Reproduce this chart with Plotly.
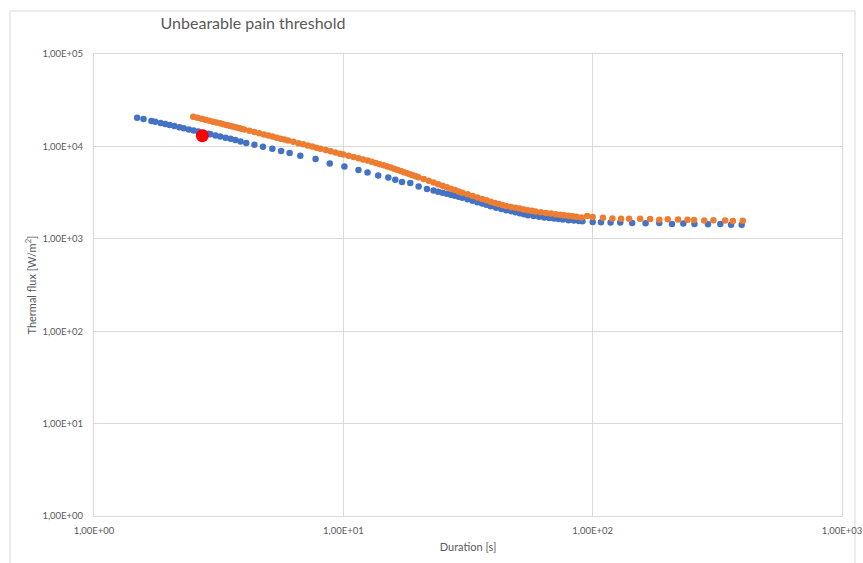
import plotly.graph_objects as go

# Series 1 (blue): exposure duration [s] and thermal flux [W/m2]
blue_duration = [
    1.49, 1.58, 1.70, 1.76, 1.85, 1.93, 2.01, 2.10, 2.20, 2.29, 2.40, 2.51,
    2.62, 2.75, 2.88, 2.93, 3.07, 3.21, 3.37, 3.53, 3.69, 3.87, 4.08, 4.40,
    4.76, 5.19, 5.63, 6.09, 6.72, 7.74, 8.82, 10.1, 11.5, 12.5, 13.8, 15.15,
    16.16, 17.19, 18.55, 20.04, 21.65, 23, 24, 25, 26, 27, 28, 29, 30, 31.5,
    33, 34.5, 36, 37.5, 39, 41, 43, 45, 47, 49, 51, 53, 55, 58, 61, 64, 67,
    70, 73, 76, 80, 84, 88, 91, 100, 108, 118, 129, 144, 163, 185, 208, 231,
    256, 290, 325, 359, 396,
]
blue_flux = [
    20450, 19750, 18880, 18460, 17920, 17430, 17000, 16590, 16090, 15740,
    15280, 14860, 14460, 14070, 13690, 13520, 13150, 12800, 12420, 12090,
    11760, 11330, 10880, 10430, 9930, 9440, 8920, 8480, 7930, 7305, 6546,
    6075, 5555, 5232, 4855, 4618, 4361, 4119, 4018, 3690, 3459, 3324, 3231,
    3145, 3064, 2988, 2916, 2849, 2786, 2683, 2584, 2493, 2408, 2330, 2257,
    2167, 2101, 2042, 1988, 1936, 1889, 1844, 1802, 1760, 1731, 1705, 1680,
    1656, 1634, 1613, 1592, 1574, 1557, 1545, 1520, 1510, 1500, 1500, 1480,
    1470, 1480, 1450, 1460, 1450, 1440, 1450, 1420, 1420,
]

# Series 2 (orange)
orange_duration = [
    2.5, 2.6, 2.7, 2.8, 2.9, 3.0, 3.1, 3.2, 3.3, 3.4, 3.5, 3.6, 3.7, 3.8,
    3.9, 4.0, 4.2, 4.4, 4.6, 4.8, 5.0, 5.2, 5.4, 5.6, 5.8, 6.0, 6.3, 6.6,
    6.9, 7.2, 7.5, 7.8, 8.1, 8.5, 8.9, 9.3, 9.7, 10, 10.5, 11, 11.5, 12,
    12.5, 13, 13.5, 14, 14.5, 15, 15.5, 16, 16.5, 17, 17.5, 18, 18.5, 19,
    19.5, 20, 21, 22, 23, 24, 25, 26, 27, 28, 29, 30, 31.5, 33, 34.5, 36,
    37.5, 39, 40.5, 42, 43.5, 45, 47, 49, 51, 53, 55, 57, 59, 62, 65, 68,
    71, 74, 77, 80, 83, 86, 90,
    95, 100, 110, 120, 130, 140, 155, 170, 185, 200, 220, 240, 255, 280,
    305, 340, 365, 400,
]
orange_flux = [
    21000, 20440, 19920, 19430, 18970, 18540, 18130, 17750, 17380, 17030,
    16700, 16380, 16080, 15790, 15510, 15250, 14750, 14290, 13860, 13470,
    13100, 12760, 12430, 12130, 11840, 11570, 11200, 10850, 10530, 10220,
    9945, 9680, 9440, 9130, 8850, 8590, 8350, 8180, 7910, 7665, 7435, 7225,
    7025, 6840, 6627, 6425, 6235, 6060, 5894, 5736, 5570, 5414, 5267, 5127,
    4996, 4869, 4753, 4638, 4429, 4237, 4063, 3901, 3753, 3615, 3488, 3370,
    3260, 3156, 3028, 2910, 2803, 2703, 2610, 2525, 2445, 2380, 2317, 2259,
    2210, 2165, 2122, 2081, 2043, 2007, 1973, 1939, 1907, 1877, 1849, 1822,
    1797, 1774, 1751, 1729, 1702,
    1760, 1720, 1690, 1660, 1650, 1650, 1650, 1640, 1610, 1630, 1620,
    1610, 1600, 1580, 1590, 1580, 1560, 1570,
]

# Highlighted point
marker_duration = [2.72]
marker_flux = [13060]

x_tickvals = [1, 10, 100, 1000]
x_ticktext = ["1,00E+00", "1,00E+01", "1,00E+02", "1,00E+03"]
y_tickvals = [1, 10, 100, 1000, 10000, 100000]
y_ticktext = ["1,00E+00", "1,00E+01", "1,00E+02", "1,00E+03", "1,00E+04", "1,00E+05"]

W, H = 863, 563
ML, MR, MT, MB = 94, 21, 54, 47
FONT = "Lato, 'Open Sans', sans-serif"
GRID = "#D9D9D9"
TEXT = "#595959"

fig = go.Figure()
fig.add_trace(go.Scatter(
    x=blue_duration, y=blue_flux, mode="markers",
    marker=dict(color="#4472C4", size=6.5, line=dict(width=0)),
    name="Series 1",
))
fig.add_trace(go.Scatter(
    x=orange_duration, y=orange_flux, mode="markers",
    marker=dict(color="#ED7D31", size=6.5, line=dict(width=0)),
    name="Series 2",
))
fig.add_trace(go.Scatter(
    x=marker_duration, y=marker_flux, mode="markers",
    marker=dict(color="#FF0000", size=13, line=dict(width=0)),
    name="Point",
))

pw = W - ML - MR
ph = H - MT - MB

def px_x(p):
    return (p - ML) / pw

def px_y(p):
    return (H - MB - p) / ph

# Light chart-area frame
fig.add_shape(
    type="rect", xref="paper", yref="paper",
    x0=px_x(10), x1=px_x(855), y0=px_y(11), y1=px_y(575),
    line=dict(color="#D9D9D9", width=1), layer="below",
)

fig.update_layout(
    width=W, height=H,
    margin=dict(l=ML, r=MR, t=MT, b=MB, autoexpand=False),
    paper_bgcolor="white", plot_bgcolor="white",
    showlegend=False,
    font=dict(family=FONT, color=TEXT, size=9.5),
    title=dict(
        text="Unbearable pain threshold",
        x=253 / W, xanchor="center", xref="container",
        y=1 - 23 / H, yanchor="middle", yref="container",
        font=dict(family=FONT, size=16, color=TEXT),
    ),
)
fig.update_xaxes(
    type="log", range=[0, 3],
    tickvals=x_tickvals, ticktext=x_ticktext,
    showgrid=True, gridcolor=GRID, gridwidth=1,
    showline=True, linecolor=GRID, linewidth=1, mirror=True,
    ticks="", ticklabelstandoff=6,
    title=dict(text="Duration [s]", font=dict(size=11, color=TEXT), standoff=7),
)
fig.update_yaxes(
    type="log", range=[0, 5],
    tickvals=y_tickvals, ticktext=y_ticktext,
    showgrid=True, gridcolor=GRID, gridwidth=1,
    showline=True, linecolor=GRID, linewidth=1, mirror=True,
    ticks="", ticklabelstandoff=8,
    title=dict(text="Thermal flux [W/m<sup>2</sup>]", font=dict(size=11, color=TEXT), standoff=3),
)

fig.write_html("out.html")
